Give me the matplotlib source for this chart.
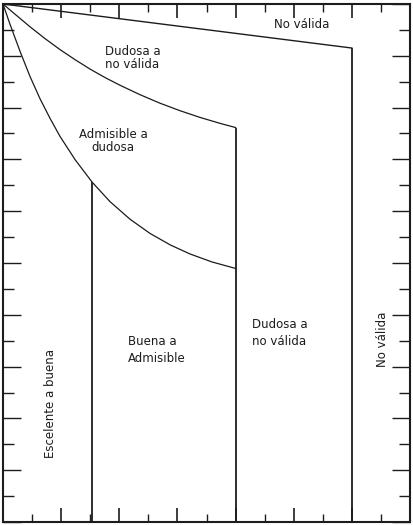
import matplotlib
matplotlib.use("Agg")
import matplotlib.pyplot as plt
from matplotlib import ticker

# upper straight boundary (No valida)
top_x = [0.0, 12.0]
top_y = [20.0, 18.3]

# "Dudosa a no valida" boundary
mid_x = [0.0, 0.41, 0.93, 1.45, 1.96, 2.48, 2.99, 3.51, 4.03, 4.71, 5.40, 6.09, 6.78, 7.47, 8.0]
mid_y = [20.0, 19.61, 19.12, 18.66, 18.24, 17.85, 17.49, 17.16, 16.86, 16.50, 16.17, 15.88, 15.62, 15.39, 15.23]

# "Admisible a dudosa" boundary
low_x = [0.0, 0.24, 0.59, 0.93, 1.27, 1.62, 1.96, 2.48, 3.06, 3.68, 4.37, 5.06, 5.75, 6.43, 7.19, 8.0]
low_y = [20.0, 19.22, 18.16, 17.20, 16.35, 15.58, 14.89, 13.99, 13.13, 12.37, 11.69, 11.14, 10.70, 10.35, 10.04, 9.79]

# vertical limits: x position, top y
vert_x = [3.06, 8.0, 12.0]
vert_top = [13.13, 15.23, 18.3]

xmax = 14
ymax = 20

ink = '#1c1c1c'
fs = 8.5

fig = plt.figure(figsize=(4.14, 5.25), dpi=100)
ax = fig.add_axes([3/414, 3/525, 407/414, 518/525])

ax.plot(top_x, top_y, color=ink, linewidth=1.0)
ax.plot(mid_x, mid_y, color=ink, linewidth=0.9)
ax.plot(low_x, low_y, color=ink, linewidth=0.9)
ax.vlines(vert_x, 0, vert_top, color=ink, linewidth=1.3)

ax.set_xlim(0, xmax)
ax.set_ylim(0, ymax)

for s in ax.spines.values():
    s.set_linewidth(1.5)
    s.set_color(ink)

ax.xaxis.set_major_locator(ticker.MultipleLocator(2))
ax.xaxis.set_minor_locator(ticker.MultipleLocator(1))
ax.yaxis.set_major_locator(ticker.MultipleLocator(2))
ax.yaxis.set_minor_locator(ticker.MultipleLocator(1))
ax.xaxis.set_major_formatter(ticker.NullFormatter())
ax.yaxis.set_major_formatter(ticker.NullFormatter())

ax.tick_params(axis='x', which='major', direction='in', top=True, bottom=True,
               length=10, width=1.2, color=ink)
ax.tick_params(axis='x', which='minor', direction='in', top=True, bottom=True,
               length=6, width=1.0, color=ink)
ax.tick_params(axis='y', which='major', direction='in', left=True, right=True,
               length=13, width=1.0, color=ink)
ax.tick_params(axis='y', which='minor', direction='in', left=True, right=True,
               length=8, width=1.0, color=ink)

txt = dict(color=ink, fontsize=fs, family='DejaVu Sans')
ax.text(10.29, 19.19, "No válida", ha='center', va='center', **txt)
ax.text(3.51, 17.92, "Dudosa a\nno válida", ha='left', va='center', linespacing=1.0, **txt)
ax.text(3.78, 14.71, "Admisible a\ndudosa", ha='center', va='center', linespacing=1.0, **txt)
ax.text(4.30, 6.64, "Buena a\nAdmisible", ha='left', va='center', linespacing=1.4, **txt)
ax.text(8.57, 7.30, "Dudosa a\nno válida", ha='left', va='center', linespacing=1.4, **txt)
ax.text(1.62, 4.56, "Escelente a buena", ha='center', va='center', rotation=90, **txt)
ax.text(13.07, 7.07, "No válida", ha='center', va='center', rotation=90, **txt)

fig.savefig('out.png', dpi=100, facecolor='white')
